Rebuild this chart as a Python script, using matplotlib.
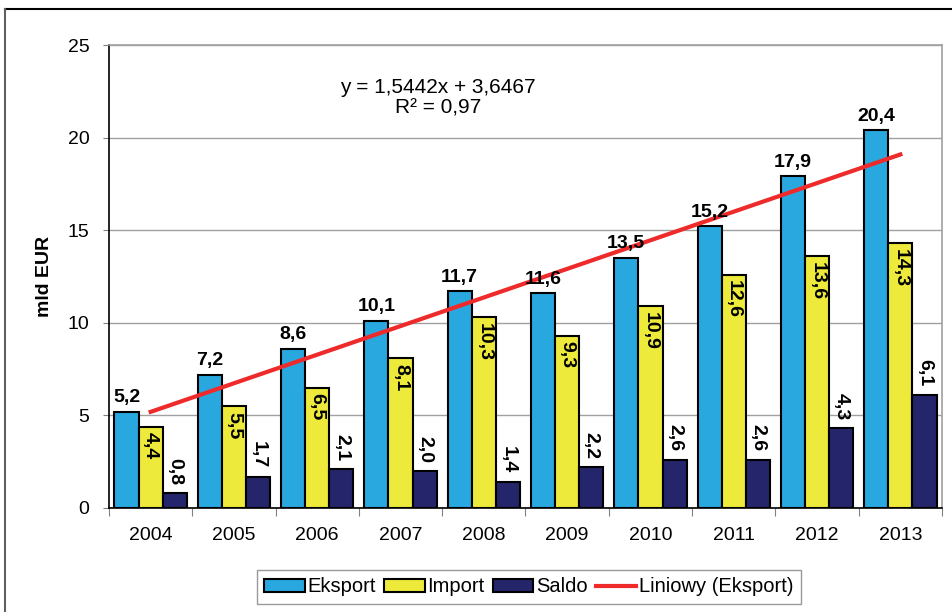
import matplotlib
matplotlib.use("Agg")
import matplotlib.pyplot as plt
import numpy as np
from matplotlib.lines import Line2D

plt.rcParams['font.family'] = ['Liberation Sans', 'DejaVu Sans']

years = ['2004', '2005', '2006', '2007', '2008', '2009', '2010', '2011', '2012', '2013']
eksport = [5.2, 7.2, 8.6, 10.1, 11.7, 11.6, 13.5, 15.2, 17.9, 20.4]
import_ = [4.4, 5.5, 6.5, 8.1, 10.3, 9.3, 10.9, 12.6, 13.6, 14.3]
saldo = [0.8, 1.7, 2.1, 2.0, 1.4, 2.2, 2.6, 2.6, 4.3, 6.1]
trend_a, trend_b = 1.5442, 3.6467
eq_text = "y = 1,5442x + 3,6467\nR² = 0,97"

c_eks = '#29A8E0'
c_imp = '#EEEA3C'
c_sal = '#25256B'
c_red = '#EE2A2A'

fig = plt.figure(figsize=(9.53, 6.12), dpi=100)
ax = fig.add_axes([109/953, 1-508/612, (942-109)/953, (508-45)/612])

x = np.arange(len(years))
w = 0.29
fs = 14

def fmt(v):
    return f"{v:.1f}".replace('.', ',')

b1 = ax.bar(x - w, eksport, w, color=c_eks, edgecolor='black', linewidth=1.5, label='Eksport', zorder=3)
b2 = ax.bar(x, import_, w, color=c_imp, edgecolor='black', linewidth=1.5, label='Import', zorder=3)
b3 = ax.bar(x + w, saldo, w, color=c_sal, edgecolor='black', linewidth=1.5, label='Saldo', zorder=3)

xi = np.arange(1, len(years) + 1)
ax.plot(x, trend_a * xi + trend_b, color=c_red, lw=3, label='Liniowy (Eksport)', zorder=4)

for i in range(len(years)):
    ax.annotate(fmt(eksport[i]), (x[i] - w, eksport[i]), xytext=(0, 4), textcoords='offset points',
                ha='center', va='bottom', fontsize=fs, fontweight='bold', zorder=5)
    ax.annotate(fmt(import_[i]), (x[i], import_[i]), xytext=(0, -4), textcoords='offset points',
                ha='center', va='top', rotation=270, fontsize=fs, fontweight='bold', zorder=5)
    ax.annotate(fmt(saldo[i]), (x[i] + w, saldo[i]), xytext=(0, 6), textcoords='offset points',
                ha='center', va='bottom', rotation=270, fontsize=fs, fontweight='bold', zorder=5)

ax.text(3.45, 22.15, eq_text, ha='center', va='center', fontsize=15, linespacing=1.05)

ax.set_ylim(0, 25)
ax.set_xlim(-0.5, len(years) - 0.5)
ax.set_yticks(np.arange(0, 26, 5))
ax.tick_params(axis='y', labelsize=14, length=4, direction='out', color='#808080', pad=10)
ax.set_xticks(np.arange(-0.5, len(years), 1))
ax.set_xticklabels([])
ax.tick_params(axis='x', which='major', length=6, direction='out', color='#808080')
ax.set_xticks(x, minor=True)
ax.set_xticklabels(years, minor=True, fontsize=14)
ax.tick_params(axis='x', which='minor', length=0, pad=14)
ax.set_ylabel('mld EUR', fontsize=14, fontweight='bold')
ax.yaxis.set_label_coords(-0.067, 0.5)
ax.yaxis.grid(True, color='#A0A0A0', lw=1, zorder=0)
ax.set_axisbelow(True)
for s in ['top', 'right']:
    ax.spines[s].set_color('#A0A0A0')
    ax.spines[s].set_linewidth(1.2)
for s in ['left', 'bottom']:
    ax.spines[s].set_color('black')
    ax.spines[s].set_linewidth(1.2)

leg = fig.legend(handles=[b1, b2, b3, ax.lines[0]], loc='center', bbox_to_anchor=(529/953, 1-587/612),
                 ncol=4, fontsize=14.5, frameon=True, fancybox=False, edgecolor='#808080',
                 handlelength=2.0, handleheight=0.6, handletextpad=0.15, columnspacing=0.4,
                 borderpad=0.35, borderaxespad=0)
leg.get_frame().set_linewidth(1)

fig.add_artist(Line2D([5/953, 1], [1-9/612, 1-9/612], color='black', lw=1.5, transform=fig.transFigure))
fig.add_artist(Line2D([5/953, 5/953], [0, 1-9/612], color='#606060', lw=1.5, transform=fig.transFigure))

fig.savefig('out.png', dpi=100)
